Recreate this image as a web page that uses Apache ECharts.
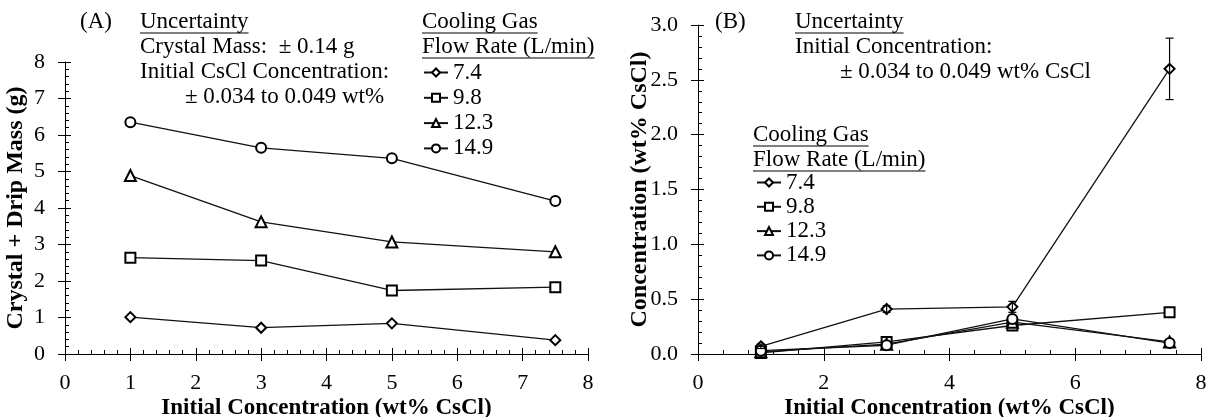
<!DOCTYPE html>
<html>
<head>
<meta charset="utf-8">
<script src="https://cdn.jsdelivr.net/npm/echarts@6/dist/echarts.min.js"></script>
<style>
  html, body { margin: 0; padding: 0; background: #fff; }
  #chart { width: 1207px; height: 417px; }
</style>
</head>
<body>
<div id="chart"></div>
<script>
// data
const concX = [1, 3, 5, 7.5];
const flowRates = ['7.4', '9.8', '12.3', '14.9'];
const symbols = ['diamond', 'rect', 'triangle', 'circle'];

// (A) crystal + drip mass, g
const mass74 = [1.01, 0.72, 0.84, 0.38];
const mass98 = [2.64, 2.56, 1.74, 1.83];
const mass123 = [4.89, 3.62, 3.07, 2.80];
const mass149 = [6.35, 5.65, 5.36, 4.19];

// (B) concentration, wt% CsCl
const conc74 = [0.07, 0.41, 0.43, 2.60];
const conc98 = [0.01, 0.11, 0.26, 0.38];
const conc123 = [0.02, 0.09, 0.29, 0.11];
const conc149 = [0.03, 0.08, 0.32, 0.10];
const concErr74 = [0.02, 0.03, 0.05, 0.28];

const FONT = '"Liberation Serif", "Times New Roman", serif';
const FS = 23;

// measure text so the underlines fit
const ctx = document.createElement('canvas').getContext('2d');
ctx.font = FS + 'px ' + FONT;
const textW = t => ctx.measureText(t).width;

const text = (t, x, y) => ({
  type: 'text', left: x, top: y - FS / 2,
  style: { text: t, font: FS + 'px ' + FONT, fill: '#000' }
});
const underline = (t, x, y) => ({
  type: 'line',
  shape: { x1: x, y1: y + 11, x2: x + textW(t), y2: y + 11 },
  style: { stroke: '#000', lineWidth: 1.2 }
});
const ulText = (t, x, y) => [text(t, x, y), underline(t, x, y)];

// main axis with inside ticks + minor ticks, and an overlay axis for the outer half of major ticks
const makeAxes = (dim, grid, min, max, interval, opts) => {
  const pos = dim === 'x' ? 'bottom' : 'left';
  const main = {
    type: 'value', gridIndex: grid, position: pos, min, max, interval,
    axisLine: { lineStyle: { color: '#000', width: 1 } },
    axisTick: { inside: true, length: 6, lineStyle: { color: '#000' } },
    minorTick: { show: true, splitNumber: 5, length: 4, lineStyle: { color: '#000' } },
    splitLine: { show: false },
    axisLabel: {
      color: '#000', fontSize: 22, fontFamily: FONT, margin: dim === 'x' ? 18 : 20,
      formatter: opts.fmt
    },
    name: opts.name, nameLocation: 'middle', nameGap: opts.nameGap, nameMoveOverlap: false,
    nameTextStyle: { color: '#000', fontSize: dim === 'x' ? 23 : 24, fontWeight: 'bold', fontFamily: FONT }
  };
  const overlay = {
    type: 'value', gridIndex: grid, position: pos, min, max, interval,
    axisLine: { show: false },
    axisTick: { inside: false, length: 7, lineStyle: { color: '#000' } },
    axisLabel: { show: false },
    splitLine: { show: false }
  };
  return [main, overlay];
};

const lineSeries = (name, sym, data, xi, yi) => ({
  name, type: 'line', xAxisIndex: xi, yAxisIndex: yi,
  data: concX.map((x, i) => [x, data[i]]),
  symbol: sym, symbolSize: sym === 'triangle' ? 11 : 10,
  lineStyle: { color: '#111', width: 1.3 },
  itemStyle: { color: '#fff', borderColor: '#000', borderWidth: 2 },
  z: 3
});

const massSeries = [mass74, mass98, mass123, mass149];
const concSeries = [conc74, conc98, conc123, conc149];

const series = [];
massSeries.forEach((d, i) => series.push(lineSeries(flowRates[i], symbols[i], d, 0, 0)));
concSeries.forEach((d, i) => series.push(lineSeries(flowRates[i], symbols[i], d, 2, 2)));
series.push({
  type: 'custom', xAxisIndex: 2, yAxisIndex: 2, z: 4,
  data: concX.map((x, i) => [x, conc74[i] - concErr74[i], conc74[i] + concErr74[i]]),
  encode: { x: 0, y: [1, 2] },
  renderItem: (params, api) => {
    const top = api.coord([api.value(0), api.value(2)]);
    const bot = api.coord([api.value(0), api.value(1)]);
    const w = 4;
    const st = { stroke: '#000', lineWidth: 1.2 };
    return {
      type: 'group',
      children: [
        { type: 'line', shape: { x1: top[0], y1: top[1], x2: bot[0], y2: bot[1] }, style: st },
        { type: 'line', shape: { x1: top[0] - w, y1: top[1], x2: top[0] + w, y2: top[1] }, style: st },
        { type: 'line', shape: { x1: bot[0] - w, y1: bot[1], x2: bot[0] + w, y2: bot[1] }, style: st }
      ]
    };
  }
});

const legendBase = {
  orient: 'vertical', data: flowRates, itemWidth: 24, itemHeight: 10, padding: 0,
  textStyle: { color: '#000', fontSize: FS, fontFamily: FONT, lineHeight: 22 },
  selectedMode: false
};

const option = {
  animation: false,
  backgroundColor: '#fff',
  grid: [
    { left: 65, right: 619, top: 62, bottom: 63, outerBoundsMode: 'none', containLabel: false },
    { left: 698, right: 6, top: 25, bottom: 63, outerBoundsMode: 'none', containLabel: false }
  ],
  xAxis: [
    ...makeAxes('x', 0, 0, 8, 1, { name: 'Initial Concentration (wt% CsCl)', nameGap: 43 }),
    ...makeAxes('x', 1, 0, 8, 2, { name: 'Initial Concentration (wt% CsCl)', nameGap: 43 })
  ],
  yAxis: [
    ...makeAxes('y', 0, 0, 8, 1, { name: 'Crystal + Drip Mass (g)', nameGap: 37 }),
    ...makeAxes('y', 1, 0, 3, 0.5, { name: 'Concentration (wt% CsCl)', nameGap: 46, fmt: v => v.toFixed(1) })
  ],
  legend: [
    Object.assign({ left: 423, top: 61, itemGap: 2.3 }, legendBase),
    Object.assign({ left: 756, top: 171, itemGap: 1.3 }, legendBase)
  ],
  graphic: [
    text('(A)', 80, 22),
    ...ulText('Uncertainty', 140, 22),
    text('Crystal Mass:  \u00b1 0.14 g', 140, 47),
    text('Initial CsCl Concentration:', 140, 72),
    text('\u00b1 0.034 to 0.049 wt%', 185, 97),
    ...ulText('Cooling Gas', 422, 22),
    ...ulText('Flow Rate (L/min)', 422, 47),
    text('(B)', 715, 22),
    ...ulText('Uncertainty', 795, 22),
    text('Initial Concentration:', 795, 47),
    text('\u00b1 0.034 to 0.049 wt% CsCl', 840, 72),
    ...ulText('Cooling Gas', 753, 135),
    ...ulText('Flow Rate (L/min)', 753, 160)
  ],
  series
};

const chart = echarts.init(document.getElementById('chart'), null, { renderer: 'canvas' });
chart.setOption(option);
</script>
</body>
</html>
